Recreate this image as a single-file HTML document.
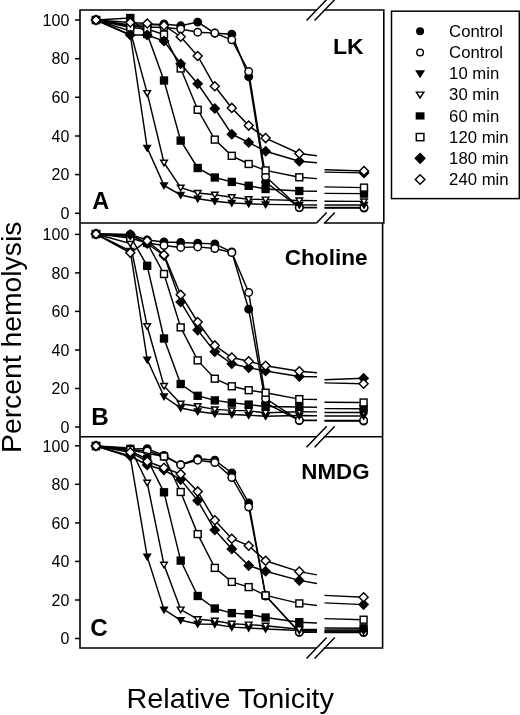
<!DOCTYPE html>
<html><head><meta charset="utf-8"><title>Hemolysis</title>
<style>html,body{margin:0;padding:0;background:#fff}body{width:520px;height:715px;overflow:hidden;font-family:"Liberation Sans",sans-serif}svg{will-change:transform}</style>
</head><body>
<svg width="520" height="715" viewBox="0 0 520 715" style="display:block" font-family="Liberation Sans, sans-serif">
<rect width="520" height="715" fill="white"/>
<g stroke="black" stroke-width="1.6" fill="none">
<path d="M80.0 223.0V10.0H383.8V223.7"/>
<path d="M80.0 223.0H382.6V648.0H80.0Z"/>
<line x1="80.0" y1="436.8" x2="382.6" y2="436.8"/>
</g>
<line x1="75" y1="20.0" x2="80" y2="20.0" stroke="black" stroke-width="1.5"/><text x="69.3" y="25.7" font-size="16" text-anchor="end">100</text><line x1="75" y1="58.7" x2="80" y2="58.7" stroke="black" stroke-width="1.5"/><text x="69.3" y="64.4" font-size="16" text-anchor="end">80</text><line x1="75" y1="97.3" x2="80" y2="97.3" stroke="black" stroke-width="1.5"/><text x="69.3" y="103.0" font-size="16" text-anchor="end">60</text><line x1="75" y1="136.0" x2="80" y2="136.0" stroke="black" stroke-width="1.5"/><text x="69.3" y="141.7" font-size="16" text-anchor="end">40</text><line x1="75" y1="174.6" x2="80" y2="174.6" stroke="black" stroke-width="1.5"/><text x="69.3" y="180.3" font-size="16" text-anchor="end">20</text><line x1="75" y1="213.3" x2="80" y2="213.3" stroke="black" stroke-width="1.5"/><text x="69.3" y="219.0" font-size="16" text-anchor="end">0</text>
<line x1="75" y1="234.4" x2="80" y2="234.4" stroke="black" stroke-width="1.5"/><text x="69.3" y="240.1" font-size="16" text-anchor="end">100</text><line x1="75" y1="272.9" x2="80" y2="272.9" stroke="black" stroke-width="1.5"/><text x="69.3" y="278.6" font-size="16" text-anchor="end">80</text><line x1="75" y1="311.4" x2="80" y2="311.4" stroke="black" stroke-width="1.5"/><text x="69.3" y="317.1" font-size="16" text-anchor="end">60</text><line x1="75" y1="350.0" x2="80" y2="350.0" stroke="black" stroke-width="1.5"/><text x="69.3" y="355.7" font-size="16" text-anchor="end">40</text><line x1="75" y1="388.5" x2="80" y2="388.5" stroke="black" stroke-width="1.5"/><text x="69.3" y="394.2" font-size="16" text-anchor="end">20</text><line x1="75" y1="427.0" x2="80" y2="427.0" stroke="black" stroke-width="1.5"/><text x="69.3" y="432.7" font-size="16" text-anchor="end">0</text>
<line x1="75" y1="445.8" x2="80" y2="445.8" stroke="black" stroke-width="1.5"/><text x="69.3" y="451.5" font-size="16" text-anchor="end">100</text><line x1="75" y1="484.3" x2="80" y2="484.3" stroke="black" stroke-width="1.5"/><text x="69.3" y="490.0" font-size="16" text-anchor="end">80</text><line x1="75" y1="522.9" x2="80" y2="522.9" stroke="black" stroke-width="1.5"/><text x="69.3" y="528.6" font-size="16" text-anchor="end">60</text><line x1="75" y1="561.4" x2="80" y2="561.4" stroke="black" stroke-width="1.5"/><text x="69.3" y="567.1" font-size="16" text-anchor="end">40</text><line x1="75" y1="600.0" x2="80" y2="600.0" stroke="black" stroke-width="1.5"/><text x="69.3" y="605.7" font-size="16" text-anchor="end">20</text><line x1="75" y1="638.5" x2="80" y2="638.5" stroke="black" stroke-width="1.5"/><text x="69.3" y="644.2" font-size="16" text-anchor="end">0</text>
<polyline points="96.0,20.0 130.3,25.0 147.2,25.0 164.0,24.0 180.7,25.8 197.7,22.1 214.8,33.2 231.8,34.2 248.7,76.7 265.6,182.0 299.3,207.5 317.0,207.6" fill="none" stroke="black" stroke-width="1.45"/><line x1="324.5" y1="208.0" x2="364.0" y2="208.0" stroke="black" stroke-width="1.45"/><circle cx="96.0" cy="20.0" r="3.75" stroke="black" stroke-width="1.45" fill="black"/><circle cx="130.3" cy="25.0" r="3.75" stroke="black" stroke-width="1.45" fill="black"/><circle cx="147.2" cy="25.0" r="3.75" stroke="black" stroke-width="1.45" fill="black"/><circle cx="164.0" cy="24.0" r="3.75" stroke="black" stroke-width="1.45" fill="black"/><circle cx="180.7" cy="25.8" r="3.75" stroke="black" stroke-width="1.45" fill="black"/><circle cx="197.7" cy="22.1" r="3.75" stroke="black" stroke-width="1.45" fill="black"/><circle cx="214.8" cy="33.2" r="3.75" stroke="black" stroke-width="1.45" fill="black"/><circle cx="231.8" cy="34.2" r="3.75" stroke="black" stroke-width="1.45" fill="black"/><circle cx="248.7" cy="76.7" r="3.75" stroke="black" stroke-width="1.45" fill="black"/><circle cx="265.6" cy="182.0" r="3.75" stroke="black" stroke-width="1.45" fill="black"/><circle cx="299.3" cy="207.5" r="3.75" stroke="black" stroke-width="1.45" fill="black"/><circle cx="364.0" cy="208.0" r="3.75" stroke="black" stroke-width="1.45" fill="black"/>
<polyline points="96.0,20.0 130.3,26.0 147.2,27.0 164.0,27.5 180.7,29.0 197.7,32.2 214.8,33.1 231.8,39.8 248.7,71.5 265.6,176.5 299.3,207.5 317.0,207.5" fill="none" stroke="black" stroke-width="1.45"/><line x1="324.5" y1="207.5" x2="364.0" y2="207.5" stroke="black" stroke-width="1.45"/><circle cx="96.0" cy="20.0" r="3.75" stroke="black" stroke-width="1.45" fill="white"/><circle cx="130.3" cy="26.0" r="3.75" stroke="black" stroke-width="1.45" fill="white"/><circle cx="147.2" cy="27.0" r="3.75" stroke="black" stroke-width="1.45" fill="white"/><circle cx="164.0" cy="27.5" r="3.75" stroke="black" stroke-width="1.45" fill="white"/><circle cx="180.7" cy="29.0" r="3.75" stroke="black" stroke-width="1.45" fill="white"/><circle cx="197.7" cy="32.2" r="3.75" stroke="black" stroke-width="1.45" fill="white"/><circle cx="214.8" cy="33.1" r="3.75" stroke="black" stroke-width="1.45" fill="white"/><circle cx="231.8" cy="39.8" r="3.75" stroke="black" stroke-width="1.45" fill="white"/><circle cx="248.7" cy="71.5" r="3.75" stroke="black" stroke-width="1.45" fill="white"/><circle cx="265.6" cy="176.5" r="3.75" stroke="black" stroke-width="1.45" fill="white"/><circle cx="299.3" cy="207.5" r="3.75" stroke="black" stroke-width="1.45" fill="white"/><circle cx="364.0" cy="207.5" r="3.75" stroke="black" stroke-width="1.45" fill="white"/>
<polyline points="96.0,20.0 130.3,35.0 147.2,147.9 164.0,185.4 180.7,195.0 197.7,198.8 214.8,201.2 231.8,203.0 248.7,203.8 265.6,204.4 299.3,204.9 317.0,204.9" fill="none" stroke="black" stroke-width="1.45"/><line x1="324.5" y1="204.9" x2="364.0" y2="204.9" stroke="black" stroke-width="1.45"/><path d="M92.7 17.5L99.3 17.5L96.0 23.1Z" stroke="black" stroke-width="1.45" fill="black"/><path d="M127.0 32.5L133.6 32.5L130.3 38.1Z" stroke="black" stroke-width="1.45" fill="black"/><path d="M143.9 145.4L150.5 145.4L147.2 151.0Z" stroke="black" stroke-width="1.45" fill="black"/><path d="M160.7 182.9L167.3 182.9L164.0 188.5Z" stroke="black" stroke-width="1.45" fill="black"/><path d="M177.4 192.5L184.0 192.5L180.7 198.1Z" stroke="black" stroke-width="1.45" fill="black"/><path d="M194.4 196.3L201.0 196.3L197.7 201.9Z" stroke="black" stroke-width="1.45" fill="black"/><path d="M211.5 198.7L218.1 198.7L214.8 204.3Z" stroke="black" stroke-width="1.45" fill="black"/><path d="M228.5 200.5L235.1 200.5L231.8 206.1Z" stroke="black" stroke-width="1.45" fill="black"/><path d="M245.4 201.3L252.0 201.3L248.7 206.9Z" stroke="black" stroke-width="1.45" fill="black"/><path d="M262.3 201.9L268.9 201.9L265.6 207.5Z" stroke="black" stroke-width="1.45" fill="black"/><path d="M296.0 202.4L302.6 202.4L299.3 208.0Z" stroke="black" stroke-width="1.45" fill="black"/><path d="M360.7 202.4L367.3 202.4L364.0 208.0Z" stroke="black" stroke-width="1.45" fill="black"/>
<polyline points="96.0,20.0 130.3,31.0 147.2,93.1 164.0,162.7 180.7,187.7 197.7,193.0 214.8,194.8 231.8,197.3 248.7,199.2 265.6,199.6 299.3,200.5 317.0,200.6" fill="none" stroke="black" stroke-width="1.45"/><line x1="324.5" y1="201.3" x2="364.0" y2="201.4" stroke="black" stroke-width="1.45"/><path d="M92.7 17.5L99.3 17.5L96.0 23.1Z" stroke="black" stroke-width="1.45" fill="white"/><path d="M127.0 28.5L133.6 28.5L130.3 34.1Z" stroke="black" stroke-width="1.45" fill="white"/><path d="M143.9 90.6L150.5 90.6L147.2 96.2Z" stroke="black" stroke-width="1.45" fill="white"/><path d="M160.7 160.2L167.3 160.2L164.0 165.8Z" stroke="black" stroke-width="1.45" fill="white"/><path d="M177.4 185.2L184.0 185.2L180.7 190.8Z" stroke="black" stroke-width="1.45" fill="white"/><path d="M194.4 190.5L201.0 190.5L197.7 196.1Z" stroke="black" stroke-width="1.45" fill="white"/><path d="M211.5 192.3L218.1 192.3L214.8 197.9Z" stroke="black" stroke-width="1.45" fill="white"/><path d="M228.5 194.8L235.1 194.8L231.8 200.4Z" stroke="black" stroke-width="1.45" fill="white"/><path d="M245.4 196.7L252.0 196.7L248.7 202.3Z" stroke="black" stroke-width="1.45" fill="white"/><path d="M262.3 197.1L268.9 197.1L265.6 202.7Z" stroke="black" stroke-width="1.45" fill="white"/><path d="M296.0 198.0L302.6 198.0L299.3 203.6Z" stroke="black" stroke-width="1.45" fill="white"/><path d="M360.7 198.9L367.3 198.9L364.0 204.5Z" stroke="black" stroke-width="1.45" fill="white"/>
<polyline points="96.0,20.0 130.3,18.0 147.2,34.0 164.0,80.5 180.7,140.6 197.7,168.0 214.8,177.5 231.8,181.9 248.7,185.8 265.6,189.0 299.3,191.0 317.0,191.3" fill="none" stroke="black" stroke-width="1.45"/><line x1="324.5" y1="193.4" x2="364.0" y2="193.6" stroke="black" stroke-width="1.45"/><rect x="92.55" y="16.55" width="6.90" height="6.90" stroke="black" stroke-width="1.45" fill="black"/><rect x="126.85" y="14.55" width="6.90" height="6.90" stroke="black" stroke-width="1.45" fill="black"/><rect x="143.75" y="30.55" width="6.90" height="6.90" stroke="black" stroke-width="1.45" fill="black"/><rect x="160.55" y="77.05" width="6.90" height="6.90" stroke="black" stroke-width="1.45" fill="black"/><rect x="177.25" y="137.15" width="6.90" height="6.90" stroke="black" stroke-width="1.45" fill="black"/><rect x="194.25" y="164.55" width="6.90" height="6.90" stroke="black" stroke-width="1.45" fill="black"/><rect x="211.35" y="174.05" width="6.90" height="6.90" stroke="black" stroke-width="1.45" fill="black"/><rect x="228.35" y="178.45" width="6.90" height="6.90" stroke="black" stroke-width="1.45" fill="black"/><rect x="245.25" y="182.35" width="6.90" height="6.90" stroke="black" stroke-width="1.45" fill="black"/><rect x="262.15" y="185.55" width="6.90" height="6.90" stroke="black" stroke-width="1.45" fill="black"/><rect x="295.85" y="187.55" width="6.90" height="6.90" stroke="black" stroke-width="1.45" fill="black"/><rect x="360.55" y="190.15" width="6.90" height="6.90" stroke="black" stroke-width="1.45" fill="black"/>
<polyline points="96.0,20.0 130.3,27.5 147.2,29.0 164.0,34.5 180.7,68.5 197.7,109.8 214.8,139.6 231.8,155.8 248.7,164.0 265.6,170.4 299.3,177.3 317.0,178.6" fill="none" stroke="black" stroke-width="1.45"/><line x1="324.5" y1="186.9" x2="364.0" y2="187.6" stroke="black" stroke-width="1.45"/><rect x="92.55" y="16.55" width="6.90" height="6.90" stroke="black" stroke-width="1.45" fill="white"/><rect x="126.85" y="24.05" width="6.90" height="6.90" stroke="black" stroke-width="1.45" fill="white"/><rect x="143.75" y="25.55" width="6.90" height="6.90" stroke="black" stroke-width="1.45" fill="white"/><rect x="160.55" y="31.05" width="6.90" height="6.90" stroke="black" stroke-width="1.45" fill="white"/><rect x="177.25" y="65.05" width="6.90" height="6.90" stroke="black" stroke-width="1.45" fill="white"/><rect x="194.25" y="106.35" width="6.90" height="6.90" stroke="black" stroke-width="1.45" fill="white"/><rect x="211.35" y="136.15" width="6.90" height="6.90" stroke="black" stroke-width="1.45" fill="white"/><rect x="228.35" y="152.35" width="6.90" height="6.90" stroke="black" stroke-width="1.45" fill="white"/><rect x="245.25" y="160.55" width="6.90" height="6.90" stroke="black" stroke-width="1.45" fill="white"/><rect x="262.15" y="166.95" width="6.90" height="6.90" stroke="black" stroke-width="1.45" fill="white"/><rect x="295.85" y="173.85" width="6.90" height="6.90" stroke="black" stroke-width="1.45" fill="white"/><rect x="360.55" y="184.15" width="6.90" height="6.90" stroke="black" stroke-width="1.45" fill="white"/>
<polyline points="96.0,20.0 130.3,35.0 147.2,35.0 164.0,41.0 180.7,63.7 197.7,83.8 214.8,108.5 231.8,134.2 248.7,142.5 265.6,151.2 299.3,161.3 317.0,162.8" fill="none" stroke="black" stroke-width="1.45"/><line x1="324.5" y1="172.1" x2="364.0" y2="172.9" stroke="black" stroke-width="1.45"/><path d="M91.5 20.0L96.0 15.5L100.5 20.0L96.0 24.5Z" stroke="black" stroke-width="1.45" fill="black"/><path d="M125.8 35.0L130.3 30.5L134.8 35.0L130.3 39.5Z" stroke="black" stroke-width="1.45" fill="black"/><path d="M142.7 35.0L147.2 30.5L151.7 35.0L147.2 39.5Z" stroke="black" stroke-width="1.45" fill="black"/><path d="M159.5 41.0L164.0 36.5L168.5 41.0L164.0 45.5Z" stroke="black" stroke-width="1.45" fill="black"/><path d="M176.2 63.7L180.7 59.2L185.2 63.7L180.7 68.2Z" stroke="black" stroke-width="1.45" fill="black"/><path d="M193.2 83.8L197.7 79.3L202.2 83.8L197.7 88.3Z" stroke="black" stroke-width="1.45" fill="black"/><path d="M210.3 108.5L214.8 104.0L219.3 108.5L214.8 113.0Z" stroke="black" stroke-width="1.45" fill="black"/><path d="M227.3 134.2L231.8 129.7L236.3 134.2L231.8 138.7Z" stroke="black" stroke-width="1.45" fill="black"/><path d="M244.2 142.5L248.7 138.0L253.2 142.5L248.7 147.0Z" stroke="black" stroke-width="1.45" fill="black"/><path d="M261.1 151.2L265.6 146.7L270.1 151.2L265.6 155.7Z" stroke="black" stroke-width="1.45" fill="black"/><path d="M294.8 161.3L299.3 156.8L303.8 161.3L299.3 165.8Z" stroke="black" stroke-width="1.45" fill="black"/><path d="M359.5 172.9L364.0 168.4L368.5 172.9L364.0 177.4Z" stroke="black" stroke-width="1.45" fill="black"/>
<polyline points="96.0,20.0 130.3,22.5 147.2,23.5 164.0,25.5 180.7,36.7 197.7,56.0 214.8,86.3 231.8,107.9 248.7,125.6 265.6,138.1 299.3,153.5 317.0,155.8" fill="none" stroke="black" stroke-width="1.45"/><line x1="324.5" y1="169.8" x2="364.0" y2="171.0" stroke="black" stroke-width="1.45"/><path d="M91.5 20.0L96.0 15.5L100.5 20.0L96.0 24.5Z" stroke="black" stroke-width="1.45" fill="white"/><path d="M125.8 22.5L130.3 18.0L134.8 22.5L130.3 27.0Z" stroke="black" stroke-width="1.45" fill="white"/><path d="M142.7 23.5L147.2 19.0L151.7 23.5L147.2 28.0Z" stroke="black" stroke-width="1.45" fill="white"/><path d="M159.5 25.5L164.0 21.0L168.5 25.5L164.0 30.0Z" stroke="black" stroke-width="1.45" fill="white"/><path d="M176.2 36.7L180.7 32.2L185.2 36.7L180.7 41.2Z" stroke="black" stroke-width="1.45" fill="white"/><path d="M193.2 56.0L197.7 51.5L202.2 56.0L197.7 60.5Z" stroke="black" stroke-width="1.45" fill="white"/><path d="M210.3 86.3L214.8 81.8L219.3 86.3L214.8 90.8Z" stroke="black" stroke-width="1.45" fill="white"/><path d="M227.3 107.9L231.8 103.4L236.3 107.9L231.8 112.4Z" stroke="black" stroke-width="1.45" fill="white"/><path d="M244.2 125.6L248.7 121.1L253.2 125.6L248.7 130.1Z" stroke="black" stroke-width="1.45" fill="white"/><path d="M261.1 138.1L265.6 133.6L270.1 138.1L265.6 142.6Z" stroke="black" stroke-width="1.45" fill="white"/><path d="M294.8 153.5L299.3 149.0L303.8 153.5L299.3 158.0Z" stroke="black" stroke-width="1.45" fill="white"/><path d="M359.5 171.0L364.0 166.5L368.5 171.0L364.0 175.5Z" stroke="black" stroke-width="1.45" fill="white"/>
<polyline points="96.0,234.0 130.3,234.5 147.2,240.0 164.0,242.0 180.7,242.5 197.7,243.2 214.8,243.9 231.8,252.0 248.7,309.2 265.6,403.0 299.3,420.5 317.0,420.6" fill="none" stroke="black" stroke-width="1.45"/><line x1="324.5" y1="421.0" x2="363.6" y2="421.0" stroke="black" stroke-width="1.45"/><circle cx="96.0" cy="234.0" r="3.75" stroke="black" stroke-width="1.45" fill="black"/><circle cx="130.3" cy="234.5" r="3.75" stroke="black" stroke-width="1.45" fill="black"/><circle cx="147.2" cy="240.0" r="3.75" stroke="black" stroke-width="1.45" fill="black"/><circle cx="164.0" cy="242.0" r="3.75" stroke="black" stroke-width="1.45" fill="black"/><circle cx="180.7" cy="242.5" r="3.75" stroke="black" stroke-width="1.45" fill="black"/><circle cx="197.7" cy="243.2" r="3.75" stroke="black" stroke-width="1.45" fill="black"/><circle cx="214.8" cy="243.9" r="3.75" stroke="black" stroke-width="1.45" fill="black"/><circle cx="231.8" cy="252.0" r="3.75" stroke="black" stroke-width="1.45" fill="black"/><circle cx="248.7" cy="309.2" r="3.75" stroke="black" stroke-width="1.45" fill="black"/><circle cx="265.6" cy="403.0" r="3.75" stroke="black" stroke-width="1.45" fill="black"/><circle cx="299.3" cy="420.5" r="3.75" stroke="black" stroke-width="1.45" fill="black"/><circle cx="363.6" cy="421.0" r="3.75" stroke="black" stroke-width="1.45" fill="black"/>
<polyline points="96.0,234.0 130.3,235.2 147.2,243.0 164.0,245.5 180.7,247.4 197.7,246.9 214.8,248.5 231.8,252.5 248.7,292.4 265.6,398.5 299.3,420.3 317.0,420.3" fill="none" stroke="black" stroke-width="1.45"/><line x1="324.5" y1="420.5" x2="363.6" y2="420.5" stroke="black" stroke-width="1.45"/><circle cx="96.0" cy="234.0" r="3.75" stroke="black" stroke-width="1.45" fill="white"/><circle cx="130.3" cy="235.2" r="3.75" stroke="black" stroke-width="1.45" fill="white"/><circle cx="147.2" cy="243.0" r="3.75" stroke="black" stroke-width="1.45" fill="white"/><circle cx="164.0" cy="245.5" r="3.75" stroke="black" stroke-width="1.45" fill="white"/><circle cx="180.7" cy="247.4" r="3.75" stroke="black" stroke-width="1.45" fill="white"/><circle cx="197.7" cy="246.9" r="3.75" stroke="black" stroke-width="1.45" fill="white"/><circle cx="214.8" cy="248.5" r="3.75" stroke="black" stroke-width="1.45" fill="white"/><circle cx="231.8" cy="252.5" r="3.75" stroke="black" stroke-width="1.45" fill="white"/><circle cx="248.7" cy="292.4" r="3.75" stroke="black" stroke-width="1.45" fill="white"/><circle cx="265.6" cy="398.5" r="3.75" stroke="black" stroke-width="1.45" fill="white"/><circle cx="299.3" cy="420.3" r="3.75" stroke="black" stroke-width="1.45" fill="white"/><circle cx="363.6" cy="420.5" r="3.75" stroke="black" stroke-width="1.45" fill="white"/>
<polyline points="96.0,234.0 130.3,251.0 147.2,359.6 164.0,396.5 180.7,408.0 197.7,411.5 214.8,413.8 231.8,414.5 248.7,415.2 265.6,416.2 299.3,415.6 317.0,415.7" fill="none" stroke="black" stroke-width="1.45"/><line x1="324.5" y1="416.0" x2="363.6" y2="416.0" stroke="black" stroke-width="1.45"/><path d="M92.7 231.5L99.3 231.5L96.0 237.1Z" stroke="black" stroke-width="1.45" fill="black"/><path d="M127.0 248.5L133.6 248.5L130.3 254.1Z" stroke="black" stroke-width="1.45" fill="black"/><path d="M143.9 357.1L150.5 357.1L147.2 362.7Z" stroke="black" stroke-width="1.45" fill="black"/><path d="M160.7 394.0L167.3 394.0L164.0 399.6Z" stroke="black" stroke-width="1.45" fill="black"/><path d="M177.4 405.5L184.0 405.5L180.7 411.1Z" stroke="black" stroke-width="1.45" fill="black"/><path d="M194.4 409.0L201.0 409.0L197.7 414.6Z" stroke="black" stroke-width="1.45" fill="black"/><path d="M211.5 411.3L218.1 411.3L214.8 416.9Z" stroke="black" stroke-width="1.45" fill="black"/><path d="M228.5 412.0L235.1 412.0L231.8 417.6Z" stroke="black" stroke-width="1.45" fill="black"/><path d="M245.4 412.7L252.0 412.7L248.7 418.3Z" stroke="black" stroke-width="1.45" fill="black"/><path d="M262.3 413.7L268.9 413.7L265.6 419.3Z" stroke="black" stroke-width="1.45" fill="black"/><path d="M296.0 413.1L302.6 413.1L299.3 418.7Z" stroke="black" stroke-width="1.45" fill="black"/><path d="M360.3 413.5L366.9 413.5L363.6 419.1Z" stroke="black" stroke-width="1.45" fill="black"/>
<polyline points="96.0,234.0 130.3,243.5 147.2,326.3 164.0,386.0 180.7,403.8 197.7,406.2 214.8,409.4 231.8,410.4 248.7,410.8 265.6,412.7 299.3,411.8 317.0,411.9" fill="none" stroke="black" stroke-width="1.45"/><line x1="324.5" y1="412.5" x2="363.6" y2="412.5" stroke="black" stroke-width="1.45"/><path d="M92.7 231.5L99.3 231.5L96.0 237.1Z" stroke="black" stroke-width="1.45" fill="white"/><path d="M127.0 241.0L133.6 241.0L130.3 246.6Z" stroke="black" stroke-width="1.45" fill="white"/><path d="M143.9 323.8L150.5 323.8L147.2 329.4Z" stroke="black" stroke-width="1.45" fill="white"/><path d="M160.7 383.5L167.3 383.5L164.0 389.1Z" stroke="black" stroke-width="1.45" fill="white"/><path d="M177.4 401.3L184.0 401.3L180.7 406.9Z" stroke="black" stroke-width="1.45" fill="white"/><path d="M194.4 403.7L201.0 403.7L197.7 409.3Z" stroke="black" stroke-width="1.45" fill="white"/><path d="M211.5 406.9L218.1 406.9L214.8 412.5Z" stroke="black" stroke-width="1.45" fill="white"/><path d="M228.5 407.9L235.1 407.9L231.8 413.5Z" stroke="black" stroke-width="1.45" fill="white"/><path d="M245.4 408.3L252.0 408.3L248.7 413.9Z" stroke="black" stroke-width="1.45" fill="white"/><path d="M262.3 410.2L268.9 410.2L265.6 415.8Z" stroke="black" stroke-width="1.45" fill="white"/><path d="M296.0 409.3L302.6 409.3L299.3 414.9Z" stroke="black" stroke-width="1.45" fill="white"/><path d="M360.3 410.0L366.9 410.0L363.6 415.6Z" stroke="black" stroke-width="1.45" fill="white"/>
<polyline points="96.0,234.0 130.3,236.5 147.2,265.8 164.0,338.5 180.7,384.0 197.7,395.8 214.8,400.4 231.8,402.7 248.7,404.6 265.6,406.5 299.3,407.0 317.0,407.2" fill="none" stroke="black" stroke-width="1.45"/><line x1="324.5" y1="408.6" x2="363.6" y2="408.7" stroke="black" stroke-width="1.45"/><rect x="92.55" y="230.55" width="6.90" height="6.90" stroke="black" stroke-width="1.45" fill="black"/><rect x="126.85" y="233.05" width="6.90" height="6.90" stroke="black" stroke-width="1.45" fill="black"/><rect x="143.75" y="262.35" width="6.90" height="6.90" stroke="black" stroke-width="1.45" fill="black"/><rect x="160.55" y="335.05" width="6.90" height="6.90" stroke="black" stroke-width="1.45" fill="black"/><rect x="177.25" y="380.55" width="6.90" height="6.90" stroke="black" stroke-width="1.45" fill="black"/><rect x="194.25" y="392.35" width="6.90" height="6.90" stroke="black" stroke-width="1.45" fill="black"/><rect x="211.35" y="396.95" width="6.90" height="6.90" stroke="black" stroke-width="1.45" fill="black"/><rect x="228.35" y="399.25" width="6.90" height="6.90" stroke="black" stroke-width="1.45" fill="black"/><rect x="245.25" y="401.15" width="6.90" height="6.90" stroke="black" stroke-width="1.45" fill="black"/><rect x="262.15" y="403.05" width="6.90" height="6.90" stroke="black" stroke-width="1.45" fill="black"/><rect x="295.85" y="403.55" width="6.90" height="6.90" stroke="black" stroke-width="1.45" fill="black"/><rect x="360.15" y="405.25" width="6.90" height="6.90" stroke="black" stroke-width="1.45" fill="black"/>
<polyline points="96.0,234.0 130.3,238.0 147.2,243.0 164.0,274.0 180.7,327.4 197.7,360.4 214.8,378.7 231.8,386.3 248.7,390.2 265.6,392.7 299.3,399.1 317.0,399.5" fill="none" stroke="black" stroke-width="1.45"/><line x1="324.5" y1="402.3" x2="363.6" y2="402.5" stroke="black" stroke-width="1.45"/><rect x="92.55" y="230.55" width="6.90" height="6.90" stroke="black" stroke-width="1.45" fill="white"/><rect x="126.85" y="234.55" width="6.90" height="6.90" stroke="black" stroke-width="1.45" fill="white"/><rect x="143.75" y="239.55" width="6.90" height="6.90" stroke="black" stroke-width="1.45" fill="white"/><rect x="160.55" y="270.55" width="6.90" height="6.90" stroke="black" stroke-width="1.45" fill="white"/><rect x="177.25" y="323.95" width="6.90" height="6.90" stroke="black" stroke-width="1.45" fill="white"/><rect x="194.25" y="356.95" width="6.90" height="6.90" stroke="black" stroke-width="1.45" fill="white"/><rect x="211.35" y="375.25" width="6.90" height="6.90" stroke="black" stroke-width="1.45" fill="white"/><rect x="228.35" y="382.85" width="6.90" height="6.90" stroke="black" stroke-width="1.45" fill="white"/><rect x="245.25" y="386.75" width="6.90" height="6.90" stroke="black" stroke-width="1.45" fill="white"/><rect x="262.15" y="389.25" width="6.90" height="6.90" stroke="black" stroke-width="1.45" fill="white"/><rect x="295.85" y="395.65" width="6.90" height="6.90" stroke="black" stroke-width="1.45" fill="white"/><rect x="360.15" y="399.05" width="6.90" height="6.90" stroke="black" stroke-width="1.45" fill="white"/>
<polyline points="96.0,234.0 130.3,234.6 147.2,243.5 164.0,255.6 180.7,302.0 197.7,330.1 214.8,351.7 231.8,363.8 248.7,367.7 265.6,371.0 299.3,376.5 317.0,376.7" fill="none" stroke="black" stroke-width="1.45"/><line x1="324.5" y1="379.8" x2="363.6" y2="378.3" stroke="black" stroke-width="1.45"/><path d="M91.5 234.0L96.0 229.5L100.5 234.0L96.0 238.5Z" stroke="black" stroke-width="1.45" fill="black"/><path d="M125.8 234.6L130.3 230.1L134.8 234.6L130.3 239.1Z" stroke="black" stroke-width="1.45" fill="black"/><path d="M142.7 243.5L147.2 239.0L151.7 243.5L147.2 248.0Z" stroke="black" stroke-width="1.45" fill="black"/><path d="M159.5 255.6L164.0 251.1L168.5 255.6L164.0 260.1Z" stroke="black" stroke-width="1.45" fill="black"/><path d="M176.2 302.0L180.7 297.5L185.2 302.0L180.7 306.5Z" stroke="black" stroke-width="1.45" fill="black"/><path d="M193.2 330.1L197.7 325.6L202.2 330.1L197.7 334.6Z" stroke="black" stroke-width="1.45" fill="black"/><path d="M210.3 351.7L214.8 347.2L219.3 351.7L214.8 356.2Z" stroke="black" stroke-width="1.45" fill="black"/><path d="M227.3 363.8L231.8 359.3L236.3 363.8L231.8 368.3Z" stroke="black" stroke-width="1.45" fill="black"/><path d="M244.2 367.7L248.7 363.2L253.2 367.7L248.7 372.2Z" stroke="black" stroke-width="1.45" fill="black"/><path d="M261.1 371.0L265.6 366.5L270.1 371.0L265.6 375.5Z" stroke="black" stroke-width="1.45" fill="black"/><path d="M294.8 376.5L299.3 372.0L303.8 376.5L299.3 381.0Z" stroke="black" stroke-width="1.45" fill="black"/><path d="M359.1 378.3L363.6 373.8L368.1 378.3L363.6 382.8Z" stroke="black" stroke-width="1.45" fill="black"/>
<polyline points="96.0,234.0 130.3,252.8 147.2,240.8 164.0,254.7 180.7,294.7 197.7,322.0 214.8,345.4 231.8,357.5 248.7,361.3 265.6,365.8 299.3,371.2 317.0,372.8" fill="none" stroke="black" stroke-width="1.45"/><line x1="324.5" y1="382.9" x2="363.6" y2="383.7" stroke="black" stroke-width="1.45"/><path d="M91.5 234.0L96.0 229.5L100.5 234.0L96.0 238.5Z" stroke="black" stroke-width="1.45" fill="white"/><path d="M125.8 252.8L130.3 248.3L134.8 252.8L130.3 257.3Z" stroke="black" stroke-width="1.45" fill="white"/><path d="M142.7 240.8L147.2 236.3L151.7 240.8L147.2 245.3Z" stroke="black" stroke-width="1.45" fill="white"/><path d="M159.5 254.7L164.0 250.2L168.5 254.7L164.0 259.2Z" stroke="black" stroke-width="1.45" fill="white"/><path d="M176.2 294.7L180.7 290.2L185.2 294.7L180.7 299.2Z" stroke="black" stroke-width="1.45" fill="white"/><path d="M193.2 322.0L197.7 317.5L202.2 322.0L197.7 326.5Z" stroke="black" stroke-width="1.45" fill="white"/><path d="M210.3 345.4L214.8 340.9L219.3 345.4L214.8 349.9Z" stroke="black" stroke-width="1.45" fill="white"/><path d="M227.3 357.5L231.8 353.0L236.3 357.5L231.8 362.0Z" stroke="black" stroke-width="1.45" fill="white"/><path d="M244.2 361.3L248.7 356.8L253.2 361.3L248.7 365.8Z" stroke="black" stroke-width="1.45" fill="white"/><path d="M261.1 365.8L265.6 361.3L270.1 365.8L265.6 370.3Z" stroke="black" stroke-width="1.45" fill="white"/><path d="M294.8 371.2L299.3 366.7L303.8 371.2L299.3 375.7Z" stroke="black" stroke-width="1.45" fill="white"/><path d="M359.1 383.7L363.6 379.2L368.1 383.7L363.6 388.2Z" stroke="black" stroke-width="1.45" fill="white"/>
<polyline points="96.0,446.0 130.3,449.0 147.2,448.7 164.0,455.5 180.7,464.6 197.7,458.6 214.8,460.2 231.8,472.9 248.7,502.9 265.6,595.5 299.3,632.3 317.0,632.3" fill="none" stroke="black" stroke-width="1.45"/><line x1="324.5" y1="632.5" x2="363.6" y2="632.5" stroke="black" stroke-width="1.45"/><circle cx="96.0" cy="446.0" r="3.75" stroke="black" stroke-width="1.45" fill="black"/><circle cx="130.3" cy="449.0" r="3.75" stroke="black" stroke-width="1.45" fill="black"/><circle cx="147.2" cy="448.7" r="3.75" stroke="black" stroke-width="1.45" fill="black"/><circle cx="164.0" cy="455.5" r="3.75" stroke="black" stroke-width="1.45" fill="black"/><circle cx="180.7" cy="464.6" r="3.75" stroke="black" stroke-width="1.45" fill="black"/><circle cx="197.7" cy="458.6" r="3.75" stroke="black" stroke-width="1.45" fill="black"/><circle cx="214.8" cy="460.2" r="3.75" stroke="black" stroke-width="1.45" fill="black"/><circle cx="231.8" cy="472.9" r="3.75" stroke="black" stroke-width="1.45" fill="black"/><circle cx="248.7" cy="502.9" r="3.75" stroke="black" stroke-width="1.45" fill="black"/><circle cx="265.6" cy="595.5" r="3.75" stroke="black" stroke-width="1.45" fill="black"/><circle cx="299.3" cy="632.3" r="3.75" stroke="black" stroke-width="1.45" fill="black"/><circle cx="363.6" cy="632.5" r="3.75" stroke="black" stroke-width="1.45" fill="black"/>
<polyline points="96.0,446.0 130.3,450.0 147.2,451.0 164.0,456.3 180.7,464.8 197.7,460.2 214.8,462.5 231.8,477.5 248.7,507.0 265.6,596.0 299.3,632.0 317.0,632.0" fill="none" stroke="black" stroke-width="1.45"/><line x1="324.5" y1="632.0" x2="363.6" y2="632.0" stroke="black" stroke-width="1.45"/><circle cx="96.0" cy="446.0" r="3.75" stroke="black" stroke-width="1.45" fill="white"/><circle cx="130.3" cy="450.0" r="3.75" stroke="black" stroke-width="1.45" fill="white"/><circle cx="147.2" cy="451.0" r="3.75" stroke="black" stroke-width="1.45" fill="white"/><circle cx="164.0" cy="456.3" r="3.75" stroke="black" stroke-width="1.45" fill="white"/><circle cx="180.7" cy="464.8" r="3.75" stroke="black" stroke-width="1.45" fill="white"/><circle cx="197.7" cy="460.2" r="3.75" stroke="black" stroke-width="1.45" fill="white"/><circle cx="214.8" cy="462.5" r="3.75" stroke="black" stroke-width="1.45" fill="white"/><circle cx="231.8" cy="477.5" r="3.75" stroke="black" stroke-width="1.45" fill="white"/><circle cx="248.7" cy="507.0" r="3.75" stroke="black" stroke-width="1.45" fill="white"/><circle cx="265.6" cy="596.0" r="3.75" stroke="black" stroke-width="1.45" fill="white"/><circle cx="299.3" cy="632.0" r="3.75" stroke="black" stroke-width="1.45" fill="white"/><circle cx="363.6" cy="632.0" r="3.75" stroke="black" stroke-width="1.45" fill="white"/>
<polyline points="96.0,446.0 130.3,457.0 147.2,556.7 164.0,609.6 180.7,620.2 197.7,624.0 214.8,624.2 231.8,627.1 248.7,628.0 265.6,629.0 299.3,630.5 317.0,630.6" fill="none" stroke="black" stroke-width="1.45"/><line x1="324.5" y1="631.0" x2="363.6" y2="631.0" stroke="black" stroke-width="1.45"/><path d="M92.7 443.5L99.3 443.5L96.0 449.1Z" stroke="black" stroke-width="1.45" fill="black"/><path d="M127.0 454.5L133.6 454.5L130.3 460.1Z" stroke="black" stroke-width="1.45" fill="black"/><path d="M143.9 554.2L150.5 554.2L147.2 559.8Z" stroke="black" stroke-width="1.45" fill="black"/><path d="M160.7 607.1L167.3 607.1L164.0 612.7Z" stroke="black" stroke-width="1.45" fill="black"/><path d="M177.4 617.7L184.0 617.7L180.7 623.3Z" stroke="black" stroke-width="1.45" fill="black"/><path d="M194.4 621.5L201.0 621.5L197.7 627.1Z" stroke="black" stroke-width="1.45" fill="black"/><path d="M211.5 621.7L218.1 621.7L214.8 627.3Z" stroke="black" stroke-width="1.45" fill="black"/><path d="M228.5 624.6L235.1 624.6L231.8 630.2Z" stroke="black" stroke-width="1.45" fill="black"/><path d="M245.4 625.5L252.0 625.5L248.7 631.1Z" stroke="black" stroke-width="1.45" fill="black"/><path d="M262.3 626.5L268.9 626.5L265.6 632.1Z" stroke="black" stroke-width="1.45" fill="black"/><path d="M296.0 628.0L302.6 628.0L299.3 633.6Z" stroke="black" stroke-width="1.45" fill="black"/><path d="M360.3 628.5L366.9 628.5L363.6 634.1Z" stroke="black" stroke-width="1.45" fill="black"/>
<polyline points="96.0,446.0 130.3,448.0 147.2,482.7 164.0,564.8 180.7,609.6 197.7,619.2 214.8,620.8 231.8,623.8 248.7,624.6 265.6,625.8 299.3,629.3 317.0,629.4" fill="none" stroke="black" stroke-width="1.45"/><line x1="324.5" y1="630.0" x2="363.6" y2="630.0" stroke="black" stroke-width="1.45"/><path d="M92.7 443.5L99.3 443.5L96.0 449.1Z" stroke="black" stroke-width="1.45" fill="white"/><path d="M127.0 445.5L133.6 445.5L130.3 451.1Z" stroke="black" stroke-width="1.45" fill="white"/><path d="M143.9 480.2L150.5 480.2L147.2 485.8Z" stroke="black" stroke-width="1.45" fill="white"/><path d="M160.7 562.3L167.3 562.3L164.0 567.9Z" stroke="black" stroke-width="1.45" fill="white"/><path d="M177.4 607.1L184.0 607.1L180.7 612.7Z" stroke="black" stroke-width="1.45" fill="white"/><path d="M194.4 616.7L201.0 616.7L197.7 622.3Z" stroke="black" stroke-width="1.45" fill="white"/><path d="M211.5 618.3L218.1 618.3L214.8 623.9Z" stroke="black" stroke-width="1.45" fill="white"/><path d="M228.5 621.3L235.1 621.3L231.8 626.9Z" stroke="black" stroke-width="1.45" fill="white"/><path d="M245.4 622.1L252.0 622.1L248.7 627.7Z" stroke="black" stroke-width="1.45" fill="white"/><path d="M262.3 623.3L268.9 623.3L265.6 628.9Z" stroke="black" stroke-width="1.45" fill="white"/><path d="M296.0 626.8L302.6 626.8L299.3 632.4Z" stroke="black" stroke-width="1.45" fill="white"/><path d="M360.3 627.5L366.9 627.5L363.6 633.1Z" stroke="black" stroke-width="1.45" fill="white"/>
<polyline points="96.0,446.0 130.3,451.0 147.2,459.0 164.0,492.3 180.7,560.6 197.7,596.0 214.8,608.5 231.8,613.1 248.7,614.2 265.6,617.5 299.3,622.2 317.0,623.0" fill="none" stroke="black" stroke-width="1.45"/><line x1="324.5" y1="627.9" x2="363.6" y2="628.3" stroke="black" stroke-width="1.45"/><rect x="92.55" y="442.55" width="6.90" height="6.90" stroke="black" stroke-width="1.45" fill="black"/><rect x="126.85" y="447.55" width="6.90" height="6.90" stroke="black" stroke-width="1.45" fill="black"/><rect x="143.75" y="455.55" width="6.90" height="6.90" stroke="black" stroke-width="1.45" fill="black"/><rect x="160.55" y="488.85" width="6.90" height="6.90" stroke="black" stroke-width="1.45" fill="black"/><rect x="177.25" y="557.15" width="6.90" height="6.90" stroke="black" stroke-width="1.45" fill="black"/><rect x="194.25" y="592.55" width="6.90" height="6.90" stroke="black" stroke-width="1.45" fill="black"/><rect x="211.35" y="605.05" width="6.90" height="6.90" stroke="black" stroke-width="1.45" fill="black"/><rect x="228.35" y="609.65" width="6.90" height="6.90" stroke="black" stroke-width="1.45" fill="black"/><rect x="245.25" y="610.75" width="6.90" height="6.90" stroke="black" stroke-width="1.45" fill="black"/><rect x="262.15" y="614.05" width="6.90" height="6.90" stroke="black" stroke-width="1.45" fill="black"/><rect x="295.85" y="618.75" width="6.90" height="6.90" stroke="black" stroke-width="1.45" fill="black"/><rect x="360.15" y="624.85" width="6.90" height="6.90" stroke="black" stroke-width="1.45" fill="black"/>
<polyline points="96.0,446.0 130.3,450.0 147.2,453.2 164.0,456.5 180.7,492.0 197.7,534.1 214.8,567.9 231.8,581.9 248.7,587.1 265.6,595.4 299.3,603.4 317.0,605.5" fill="none" stroke="black" stroke-width="1.45"/><line x1="324.5" y1="618.6" x2="363.6" y2="619.7" stroke="black" stroke-width="1.45"/><rect x="92.55" y="442.55" width="6.90" height="6.90" stroke="black" stroke-width="1.45" fill="white"/><rect x="126.85" y="446.55" width="6.90" height="6.90" stroke="black" stroke-width="1.45" fill="white"/><rect x="160.55" y="453.05" width="6.90" height="6.90" stroke="black" stroke-width="1.45" fill="white"/><rect x="177.25" y="488.55" width="6.90" height="6.90" stroke="black" stroke-width="1.45" fill="white"/><rect x="194.25" y="530.65" width="6.90" height="6.90" stroke="black" stroke-width="1.45" fill="white"/><rect x="211.35" y="564.45" width="6.90" height="6.90" stroke="black" stroke-width="1.45" fill="white"/><rect x="228.35" y="578.45" width="6.90" height="6.90" stroke="black" stroke-width="1.45" fill="white"/><rect x="245.25" y="583.65" width="6.90" height="6.90" stroke="black" stroke-width="1.45" fill="white"/><rect x="262.15" y="591.95" width="6.90" height="6.90" stroke="black" stroke-width="1.45" fill="white"/><rect x="295.85" y="599.95" width="6.90" height="6.90" stroke="black" stroke-width="1.45" fill="white"/><rect x="360.15" y="616.25" width="6.90" height="6.90" stroke="black" stroke-width="1.45" fill="white"/>
<polyline points="96.0,446.0 130.3,456.0 147.2,465.0 164.0,470.0 180.7,479.6 197.7,500.6 214.8,530.0 231.8,548.9 248.7,565.6 265.6,571.3 299.3,580.4 317.0,583.5" fill="none" stroke="black" stroke-width="1.45"/><line x1="324.5" y1="602.9" x2="363.6" y2="604.6" stroke="black" stroke-width="1.45"/><path d="M91.5 446.0L96.0 441.5L100.5 446.0L96.0 450.5Z" stroke="black" stroke-width="1.45" fill="black"/><path d="M125.8 456.0L130.3 451.5L134.8 456.0L130.3 460.5Z" stroke="black" stroke-width="1.45" fill="black"/><path d="M142.7 465.0L147.2 460.5L151.7 465.0L147.2 469.5Z" stroke="black" stroke-width="1.45" fill="black"/><path d="M159.5 470.0L164.0 465.5L168.5 470.0L164.0 474.5Z" stroke="black" stroke-width="1.45" fill="black"/><path d="M176.2 479.6L180.7 475.1L185.2 479.6L180.7 484.1Z" stroke="black" stroke-width="1.45" fill="black"/><path d="M193.2 500.6L197.7 496.1L202.2 500.6L197.7 505.1Z" stroke="black" stroke-width="1.45" fill="black"/><path d="M210.3 530.0L214.8 525.5L219.3 530.0L214.8 534.5Z" stroke="black" stroke-width="1.45" fill="black"/><path d="M227.3 548.9L231.8 544.4L236.3 548.9L231.8 553.4Z" stroke="black" stroke-width="1.45" fill="black"/><path d="M244.2 565.6L248.7 561.1L253.2 565.6L248.7 570.1Z" stroke="black" stroke-width="1.45" fill="black"/><path d="M261.1 571.3L265.6 566.8L270.1 571.3L265.6 575.8Z" stroke="black" stroke-width="1.45" fill="black"/><path d="M294.8 580.4L299.3 575.9L303.8 580.4L299.3 584.9Z" stroke="black" stroke-width="1.45" fill="black"/><path d="M359.1 604.6L363.6 600.1L368.1 604.6L363.6 609.1Z" stroke="black" stroke-width="1.45" fill="black"/>
<polyline points="96.0,446.0 130.3,452.2 147.2,461.5 164.0,467.7 180.7,474.0 197.7,491.4 214.8,520.2 231.8,538.7 248.7,545.7 265.6,560.8 299.3,571.6 317.0,574.9" fill="none" stroke="black" stroke-width="1.45"/><line x1="324.5" y1="595.4" x2="363.6" y2="597.2" stroke="black" stroke-width="1.45"/><path d="M91.5 446.0L96.0 441.5L100.5 446.0L96.0 450.5Z" stroke="black" stroke-width="1.45" fill="white"/><path d="M125.8 452.2L130.3 447.7L134.8 452.2L130.3 456.7Z" stroke="black" stroke-width="1.45" fill="white"/><path d="M142.7 461.5L147.2 457.0L151.7 461.5L147.2 466.0Z" stroke="black" stroke-width="1.45" fill="white"/><path d="M159.5 467.7L164.0 463.2L168.5 467.7L164.0 472.2Z" stroke="black" stroke-width="1.45" fill="white"/><path d="M176.2 474.0L180.7 469.5L185.2 474.0L180.7 478.5Z" stroke="black" stroke-width="1.45" fill="white"/><path d="M193.2 491.4L197.7 486.9L202.2 491.4L197.7 495.9Z" stroke="black" stroke-width="1.45" fill="white"/><path d="M210.3 520.2L214.8 515.7L219.3 520.2L214.8 524.7Z" stroke="black" stroke-width="1.45" fill="white"/><path d="M227.3 538.7L231.8 534.2L236.3 538.7L231.8 543.2Z" stroke="black" stroke-width="1.45" fill="white"/><path d="M244.2 545.7L248.7 541.2L253.2 545.7L248.7 550.2Z" stroke="black" stroke-width="1.45" fill="white"/><path d="M261.1 560.8L265.6 556.3L270.1 560.8L265.6 565.3Z" stroke="black" stroke-width="1.45" fill="white"/><path d="M294.8 571.6L299.3 567.1L303.8 571.6L299.3 576.1Z" stroke="black" stroke-width="1.45" fill="white"/><path d="M359.1 597.2L363.6 592.7L368.1 597.2L363.6 601.7Z" stroke="black" stroke-width="1.45" fill="white"/>
<rect x="316.2" y="8.0" width="7.6" height="4" fill="white"/><line x1="306.5" y1="20.5" x2="326.7" y2="-0.5" stroke="black" stroke-width="1.5"/><line x1="314.6" y1="20.5" x2="334.8" y2="-0.5" stroke="black" stroke-width="1.5"/>
<rect x="316.2" y="221.0" width="7.6" height="4" fill="white"/><line x1="316.3" y1="223.3" x2="326.7" y2="212.5" stroke="black" stroke-width="1.5"/><line x1="324.4" y1="223.3" x2="334.8" y2="212.5" stroke="black" stroke-width="1.5"/>
<rect x="316.2" y="434.8" width="7.6" height="4" fill="white"/><line x1="306.5" y1="447.3" x2="326.7" y2="426.3" stroke="black" stroke-width="1.5"/><line x1="314.6" y1="447.3" x2="334.8" y2="426.3" stroke="black" stroke-width="1.5"/>
<rect x="316.2" y="646.0" width="7.6" height="4" fill="white"/><line x1="306.5" y1="658.5" x2="326.7" y2="637.5" stroke="black" stroke-width="1.5"/><line x1="314.6" y1="658.5" x2="334.8" y2="637.5" stroke="black" stroke-width="1.5"/>
<text transform="translate(363.60,54.00) scale(1.0200,1)" font-size="22.6" text-anchor="end" font-weight="bold">LK</text>
<text transform="translate(367.60,264.60)" font-size="22.6" text-anchor="end" font-weight="bold">Choline</text>
<text transform="translate(369.60,478.70) scale(0.9900,1)" font-size="22.6" text-anchor="end" font-weight="bold">NMDG</text>
<text transform="translate(92.30,209.20)" font-size="23.5" text-anchor="start" font-weight="bold">A</text>
<text transform="translate(91.20,424.80) scale(1.0300,1)" font-size="23.5" text-anchor="start" font-weight="bold">B</text>
<text transform="translate(90.30,636.40) scale(1.0300,1)" font-size="23.5" text-anchor="start" font-weight="bold">C</text>
<text transform="translate(230.20,708.40) scale(1.0290,1)" font-size="28" text-anchor="middle">Relative Tonicity</text>
<text transform="translate(20.90,337.30) rotate(-90) scale(1.0115,1)" font-size="28" text-anchor="middle">Percent hemolysis</text>
<rect x="391.5" y="11.2" width="127.8" height="187.4" fill="white" stroke="black" stroke-width="1.5"/>
<circle cx="420.1" cy="31.2" r="3.30" stroke="black" stroke-width="1.45" fill="black"/>
<text transform="translate(449.10,36.90) scale(1.0450,1)" font-size="16" text-anchor="start">Control</text>
<circle cx="420.1" cy="52.4" r="3.30" stroke="black" stroke-width="1.45" fill="white"/>
<text transform="translate(449.10,58.08) scale(1.0450,1)" font-size="16" text-anchor="start">Control</text>
<path d="M416.4 71.0L423.8 71.0L420.1 76.8Z" stroke="black" stroke-width="1.45" fill="black"/>
<text transform="translate(449.10,79.26) scale(1.0450,1)" font-size="16" text-anchor="start">10 min</text>
<path d="M416.4 92.1L423.8 92.1L420.1 97.9Z" stroke="black" stroke-width="1.45" fill="white"/>
<text transform="translate(449.10,100.44) scale(1.0450,1)" font-size="16" text-anchor="start">30 min</text>
<rect x="416.40" y="113.02" width="7.40" height="5.80" stroke="black" stroke-width="1.45" fill="black"/>
<text transform="translate(449.10,121.62) scale(1.0450,1)" font-size="16" text-anchor="start">60 min</text>
<rect x="416.30" y="133.50" width="7.60" height="7.20" stroke="black" stroke-width="1.45" fill="white"/>
<text transform="translate(449.10,142.80) scale(1.0450,1)" font-size="16" text-anchor="start">120 min</text>
<path d="M415.3 158.3L420.1 153.5L424.9 158.3L420.1 163.1Z" stroke="black" stroke-width="1.45" fill="black"/>
<text transform="translate(449.10,163.98) scale(1.0450,1)" font-size="16" text-anchor="start">180 min</text>
<path d="M415.3 179.5L420.1 174.7L424.9 179.5L420.1 184.3Z" stroke="black" stroke-width="1.45" fill="white"/>
<text transform="translate(449.10,185.16) scale(1.0450,1)" font-size="16" text-anchor="start">240 min</text>
</svg>
</body></html>
